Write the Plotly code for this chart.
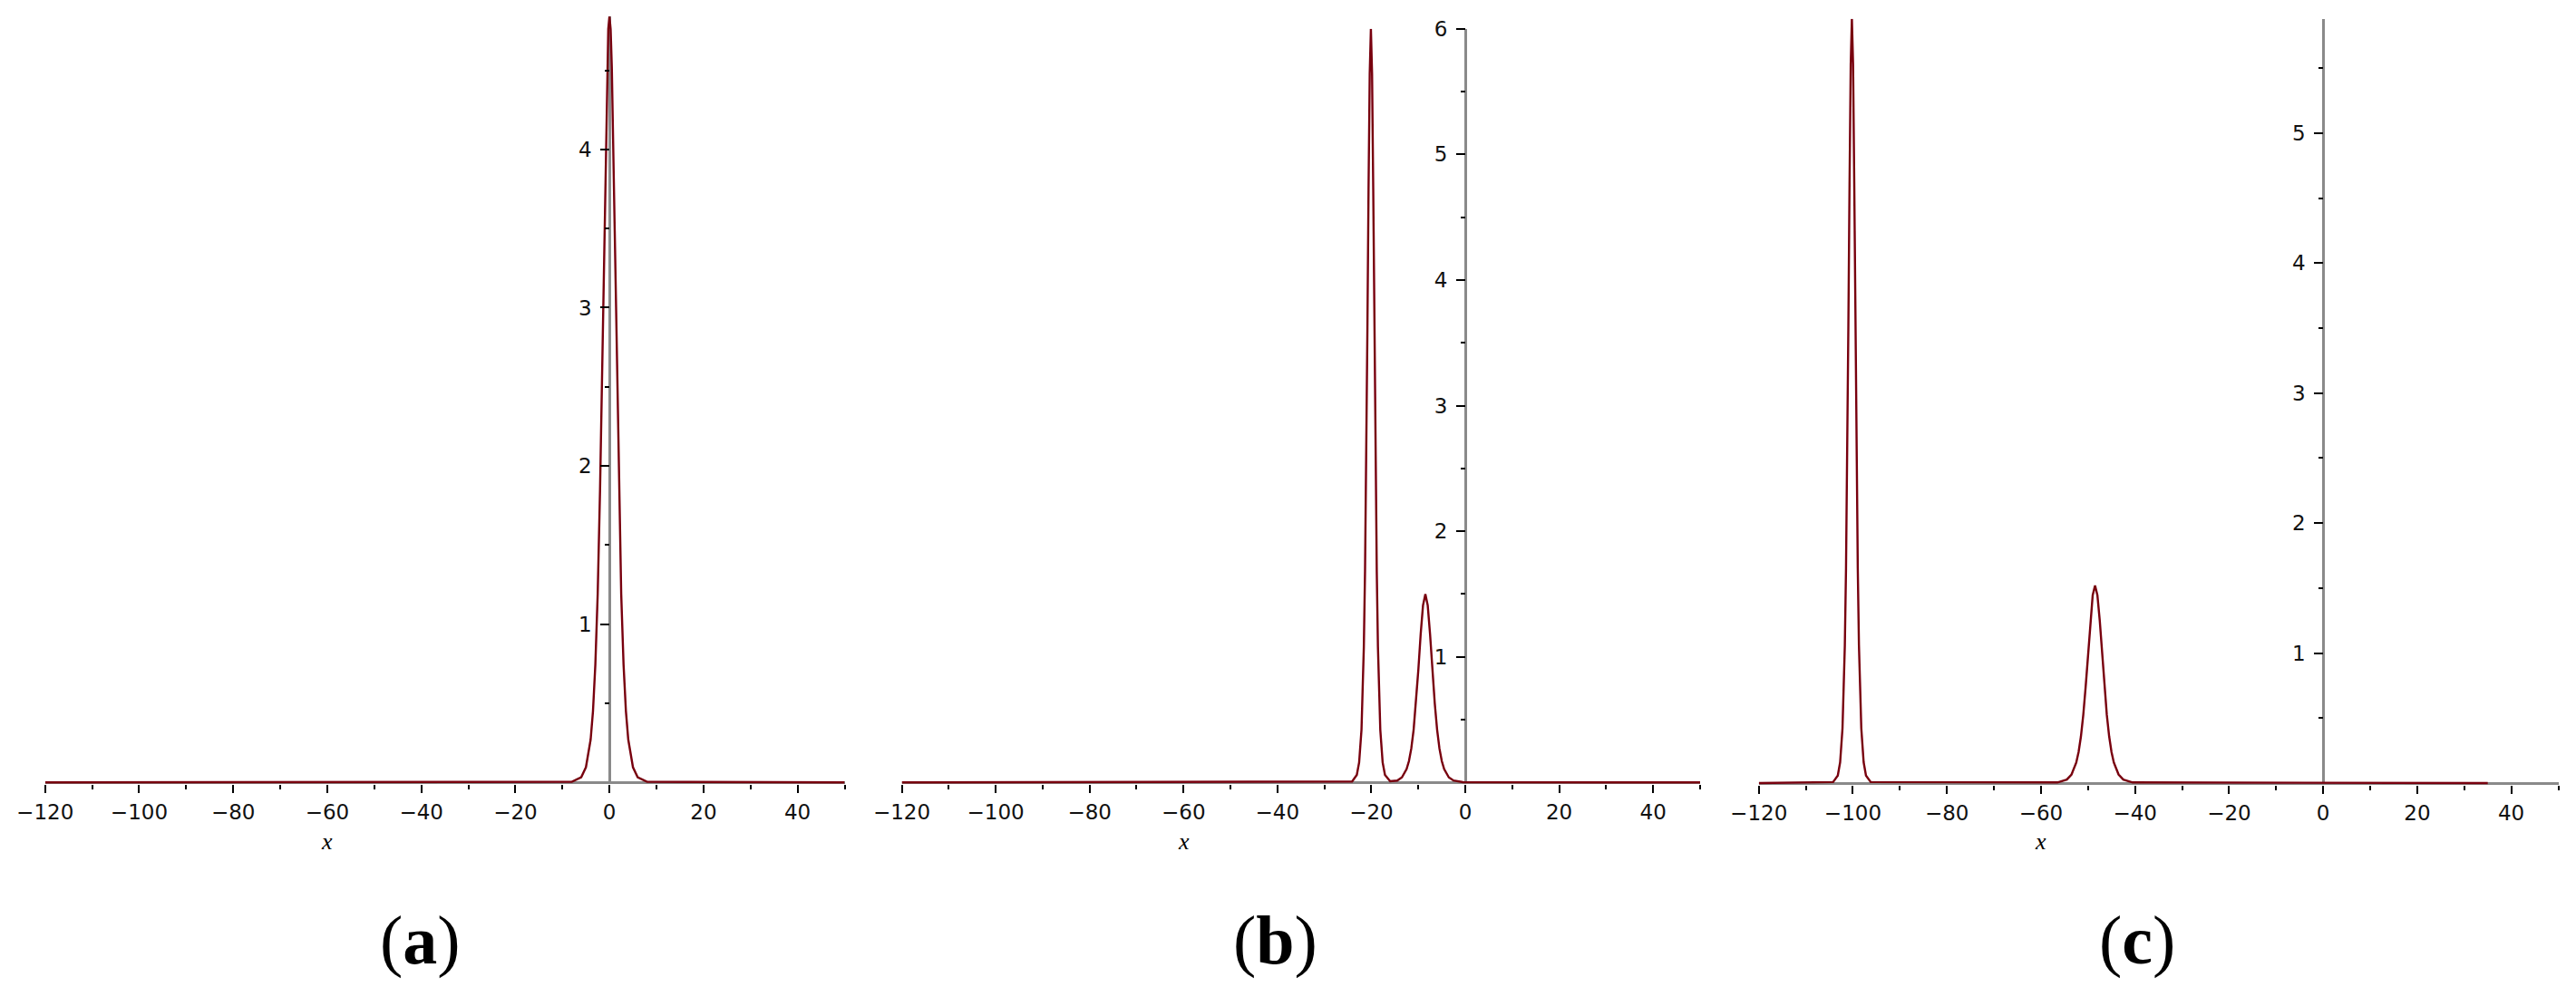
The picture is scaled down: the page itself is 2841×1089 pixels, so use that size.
import plotly.graph_objects as go

# page body keeps its default 8px margin, so the figure is drawn 8px in
OFF = 8
W, H = 2841 - 2 * OFF, 1089 - 2 * OFF

# ---------------- data ----------------
a_x = [-120, -8, -6, -5, -4, -3.5, -3, -2.5, -2, -1.5, -1, -0.5, -0.25, 0,
       0.25, 0.5, 1, 1.5, 2, 2.5, 3, 3.5, 4, 5, 6, 8, 50]
a_y = [0, 0.004, 0.033, 0.096, 0.271, 0.451, 0.744, 1.19, 1.85, 2.72, 3.70, 4.52, 4.76, 4.84,
       4.76, 4.52, 3.70, 2.72, 1.85, 1.19, 0.744, 0.451, 0.271, 0.096, 0.033, 0.004, 0]

b_x = [-120, -24.1, -23.1, -22.6, -22.1, -21.85, -21.6, -21.35, -21.1, -20.85, -20.6, -20.35,
       -20.1, -19.85, -19.6, -19.35, -19.1, -18.85, -18.6, -18.35, -18.1, -17.6, -17.1,
       -16.0,
       -14.5, -13.5, -12.5, -12, -11.5, -11, -10.5, -10, -9.5, -9, -8.5, -8, -7.5, -7, -6.5,
       -6, -5.5, -5, -4.5, -3.5, -2.5, -0.5, 50]
b_y = [0, 0.008, 0.06, 0.16, 0.42, 0.68, 1.08, 1.68, 2.52, 3.58, 4.72, 5.64,
       6.0, 5.64, 4.72, 3.58, 2.52, 1.68, 1.08, 0.68, 0.42, 0.16, 0.06,
       0.01,
       0.015, 0.04, 0.106, 0.17, 0.27, 0.42, 0.63, 0.895, 1.18, 1.41, 1.5, 1.41, 1.18, 0.895, 0.63,
       0.42, 0.27, 0.17, 0.106, 0.04, 0.015, 0.002, 0]

c_x = [-120, -104.2, -103.2, -102.7, -102.2, -101.95, -101.7, -101.45, -101.2, -100.95, -100.7,
       -100.45, -100.2, -99.95, -99.7, -99.45, -99.2, -98.95, -98.7, -98.45, -98.2, -97.7,
       -97.2, -96.2,
       -56.5, -54.5, -53.5, -52.5, -52, -51.5, -51, -50.5, -50, -49.5, -49, -48.5, -48, -47.5,
       -47, -46.5, -46, -45.5, -45, -44.5, -43.5, -42.5, -40.5, 35]
c_y = [0, 0.008, 0.058, 0.16, 0.42, 0.67, 1.06, 1.65, 2.47, 3.51, 4.62,
       5.53, 5.88, 5.53, 4.62, 3.51, 2.47, 1.65, 1.06, 0.67, 0.42, 0.16,
       0.058, 0.008,
       0.005, 0.027, 0.066, 0.157, 0.239, 0.359, 0.525, 0.74, 0.994, 1.25, 1.445, 1.52, 1.445, 1.25,
       0.994, 0.74, 0.525, 0.359, 0.239, 0.157, 0.066, 0.027, 0.005, 0]

x_range = [-120, 50]
x_ticks = [-120, -100, -80, -60, -40, -20, 0, 20, 40]
x_minor = [-110, -90, -70, -50, -30, -10, 10, 30, 50]

y_max = [4.84, 6.0, 5.88]
y_ticks = [[1, 2, 3, 4], [1, 2, 3, 4, 5, 6], [1, 2, 3, 4, 5]]
y_minor = [[0.5, 1.5, 2.5, 3.5, 4.5],
           [0.5, 1.5, 2.5, 3.5, 4.5, 5.5],
           [0.5, 1.5, 2.5, 3.5, 4.5, 5.5]]

panel_labels = ["a", "b", "c"]
axis_title = "x"
axis_title_at = -60

series = [(a_x, a_y), (b_x, b_y), (c_x, c_y)]

# ---------------- layout geometry (screen pixels) ----------------
px_left = [49.7, 994.5, 1939.7]
px_right = [931.5, 1875.0, 2821.5]
px_zero = [863.3, 863.3, 864.0]
px_top = [18.2, 31.7, 20.7]
label_px_x = [463, 1406, 2357]
label_px_y = 1037
title_px_y = 928
pad = 2.0


def sx(p):
    return (p - OFF) / W


def sy(p):
    return 1 - (p - OFF) / H


LINE = "#78000E"
AXC = "#8a8a8a"
TICKFONT = dict(family="DejaVu Sans", size=23, color="#111111")

fig = go.Figure()
layout = dict(width=W, height=H, margin=dict(l=0, r=0, t=0, b=0, autoexpand=False),
              paper_bgcolor="white", plot_bgcolor="white", showlegend=False,
              annotations=[])

for i, (xs, ys) in enumerate(series):
    n = "" if i == 0 else str(i + 1)
    fig.add_trace(go.Scatter(x=xs, y=ys, mode="lines",
                             line=dict(color=LINE, width=2.4),
                             xaxis="x" + n, yaxis="y" + n, hoverinfo="skip"))
    ppu = (px_zero[i] - px_top[i]) / y_max[i]
    ymin = -pad / ppu
    xd = [sx(px_left[i]), sx(px_right[i])]
    yd = [sy(px_zero[i] + pad), sy(px_top[i])]
    pos0 = xd[0] + (0 - x_range[0]) / (x_range[1] - x_range[0]) * (xd[1] - xd[0])

    layout["xaxis" + n] = dict(
        domain=xd, range=x_range, anchor="y" + n, showgrid=False, showline=False,
        zeroline=True, zerolinecolor=AXC, zerolinewidth=3,
        tickmode="array", tickvals=x_ticks, ticks="outside", ticklen=9, tickwidth=2,
        tickcolor="black", tickfont=TICKFONT, ticklabelstandoff=1,
        minor=dict(tickmode="array", tickvals=x_minor, ticks="outside", ticklen=5,
                   tickwidth=2, tickcolor="black"),
    )
    layout["yaxis" + n] = dict(
        domain=yd, range=[ymin, y_max[i]], anchor="free", position=pos0,
        showgrid=False, showline=False,
        zeroline=True, zerolinecolor=AXC, zerolinewidth=3,
        tickmode="array", tickvals=y_ticks[i], ticks="outside", ticklen=10, tickwidth=2,
        tickcolor="black", tickfont=TICKFONT, ticklabelstandoff=5,
        minor=dict(tickmode="array", tickvals=y_minor[i], ticks="outside", ticklen=5,
                   tickwidth=2, tickcolor="black"),
    )
    layout["annotations"].append(dict(
        x=axis_title_at, xref="x" + n, y=sy(title_px_y), yref="paper",
        text="<i>" + axis_title + "</i>", showarrow=False,
        font=dict(family="Liberation Serif", size=26, color="black"),
        xanchor="center", yanchor="middle"))
    layout["annotations"].append(dict(
        x=sx(label_px_x[i]), xref="paper", y=sy(label_px_y), yref="paper",
        text="(<b>" + panel_labels[i] + "</b>)", showarrow=False,
        font=dict(family="Liberation Serif", size=76, color="black"),
        xanchor="center", yanchor="middle"))

fig.update_layout(**layout)
fig.write_html("out.html")
